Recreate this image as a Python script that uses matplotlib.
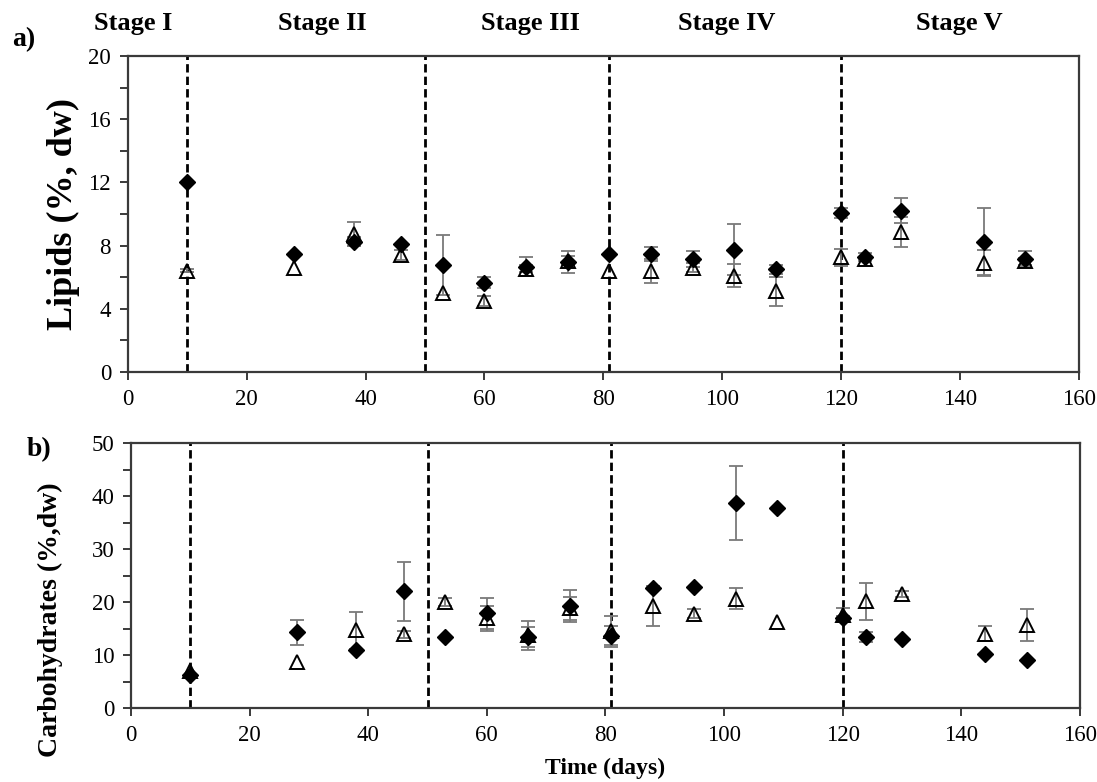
import numpy as np
import matplotlib
matplotlib.use("Agg")
import matplotlib.pyplot as plt
from matplotlib.ticker import MultipleLocator
from matplotlib.transforms import blended_transform_factory

# sampling days (same for both panels)
days = [10, 28, 38, 46, 53, 60, 67, 74, 81, 88, 95, 102, 109, 120, 124, 130, 144, 151]

# a) lipids, % dw -- filled diamonds and open triangles
lip_dia = [12.0, 7.45, 8.25, 8.1, 6.8, 5.65, 6.65, 6.95, 7.45, 7.45, 7.15, 7.75, 6.5,
           10.05, 7.3, 10.2, 8.25, 7.15]
lip_dia_err = [0, 0, 0.3, 0, 1.9, 0.35, 0.6, 0.7, 0, 0.45, 0.5, 1.6, 0.3,
               0.3, 0.2, 0.8, 2.1, 0.5]
lip_tri = [6.4, 6.6, 8.75, 7.4, 5.0, 4.5, 6.55, 7.05, 6.4, 6.4, 6.6, 6.1, 5.1,
           7.25, 7.15, 8.85, 6.9, 7.0]
lip_tri_err = [0.1, 0, 0.75, 0.3, 0, 0.3, 0.2, 0.3, 0, 0.75, 0.3, 0.75, 0.9,
               0.55, 0.1, 0.95, 0.85, 0.2]

# b) carbohydrates, % dw
carb_dia = [6.2, 14.3, 11.0, 22.0, 13.4, 17.9, 13.4, 19.2, 13.5, 22.7, 22.8, 38.7, 37.7,
            16.9, 13.4, 13.0, 10.1, 9.1]
carb_dia_err = [0, 2.4, 0, 5.5, 0, 2.9, 1.9, 3.0, 2.0, 0, 0, 7.0, 0,
                0.5, 1.0, 0, 0, 0]
carb_tri = [7.0, 8.6, 14.7, 13.9, 20.0, 16.9, 13.7, 18.8, 14.6, 19.2, 17.8, 20.6, 16.3,
            17.6, 20.1, 21.5, 14.0, 15.7]
carb_tri_err = [0, 0, 3.5, 0.6, 0.8, 2.4, 2.7, 2.2, 2.8, 3.8, 0.8, 2.0, 0,
                1.3, 3.5, 0.6, 1.4, 3.0]

# stage boundaries and labels
stage_bounds = [10, 50, 81, 120]
stage_names = ["Stage I", "Stage II", "Stage III", "Stage IV", "Stage V"]
stage_label_x = [1, 32.7, 67.7, 100.8, 139.8]

plt.rcParams["font.family"] = ["Liberation Serif", "DejaVu Serif"]
EDGE = "#3a3a3a"


def panel(ax, tri, tri_err, dia, dia_err, ymax, ymaj, ymin):
    x = np.array(days, dtype=float)
    for vals, err in ((tri, tri_err), (dia, dia_err)):
        vals = np.array(vals); err = np.array(err)
        m = err > 0
        ax.errorbar(x[m], vals[m], yerr=err[m], fmt="none", ecolor="#7a7a7a",
                    elinewidth=1.3, capsize=5, capthick=1.3, zorder=2)
    ax.plot(x, tri, ls="none", marker="^", ms=10.5, mfc="none", mec="black",
            mew=1.4, zorder=3)
    ax.plot(x, dia, ls="none", marker="D", ms=8.2, mfc="black", mec="black",
            zorder=4)
    for b in stage_bounds:
        ax.axvline(b, color="black", lw=2, ls=(0, (3, 1.5)), zorder=1)

    ax.set_xlim(0, 160)
    ax.set_ylim(0, ymax)
    ax.xaxis.set_major_locator(MultipleLocator(20))
    ax.yaxis.set_major_locator(MultipleLocator(ymaj))
    ax.yaxis.set_minor_locator(MultipleLocator(ymin))
    ax.tick_params(which="both", direction="out", length=6, width=1.4,
                   color=EDGE, labelsize=16.5, pad=6, top=False, right=False)
    ax.tick_params(axis="x", which="minor", bottom=False)
    for s in ax.spines.values():
        s.set_linewidth(1.6)
        s.set_color(EDGE)


fig = plt.figure(figsize=(10.97, 7.82), dpi=100)
ax1 = fig.add_axes([0.1164, 0.5243, 0.8672, 0.4041])
ax2 = fig.add_axes([0.1194, 0.0946, 0.8651, 0.3389])

panel(ax1, lip_tri, lip_tri_err, lip_dia, lip_dia_err, 20, 4, 2)
panel(ax2, carb_tri, carb_tri_err, carb_dia, carb_dia_err, 50, 10, 5)

ax1.set_ylabel("Lipids (%, dw)", fontsize=26, fontweight="bold", va="center")
ax1.yaxis.set_label_coords(-0.068, 0.5)
ax2.set_ylabel("Carbohydrates (%,dw)", fontsize=20, fontweight="bold", va="center")
ax2.yaxis.set_label_coords(-0.085, 0.335)

trans = blended_transform_factory(ax1.transData, ax1.transAxes)
for name, sx in zip(stage_names, stage_label_x):
    ax1.text(sx, 1.082, name, transform=trans, ha="center", va="baseline",
             fontsize=19, fontweight="bold")

fig.text(12 / 1097, 1 - 40 / 782, "a)", fontsize=20, fontweight="bold", va="center")
fig.text(27 / 1097, 1 - 450 / 782, "b)", fontsize=20, fontweight="bold", va="center")
fig.text(605 / 1097, 1 - 768 / 782, "Time (days)", fontsize=17, fontweight="bold",
         ha="center", va="center")

fig.savefig("out.png", dpi=100)
